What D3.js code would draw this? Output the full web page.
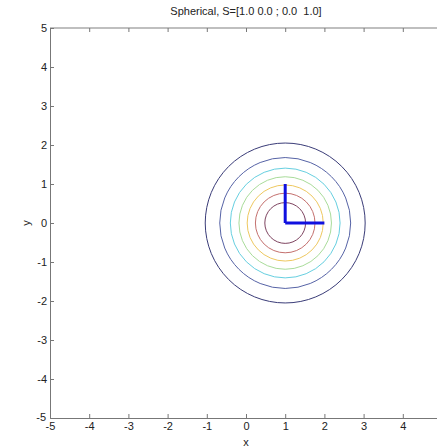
<!DOCTYPE html>
<html>
<head>
<meta charset="utf-8">
<script src="https://cdn.jsdelivr.net/npm/d3@7"></script>
<style>
  body { margin: 0; background: #fff; }
  svg { display: block; font-family: "Liberation Sans", Arial, sans-serif; }
</style>
</head>
<body>
<svg id="chart" width="437" height="448"></svg>
<script>
// contour rings (radius in data units) and their colours
var ringRadius = [0.52, 0.76, 0.97, 1.18, 1.40, 1.67, 2.04];
var ringColor = ["#7e4460", "#c4706e", "#eec860", "#a9dc9a", "#66cfe0", "#5663a6", "#3a3c78"];
var center = [1, 0];
// principal axes drawn from the centre
var axisEnds = [[1, 1], [2, 0]];
var xTicks = [-5, -4, -3, -2, -1, 0, 1, 2, 3, 4, 5];
var yTicks = [-5, -4, -3, -2, -1, 0, 1, 2, 3, 4, 5];
var title = "Spherical, S=[1.0 0.0 ; 0.0  1.0]";

var svg = d3.select("#chart");
var x = d3.scaleLinear().domain([-5, 5]).range([50, 442]);
var y = d3.scaleLinear().domain([-5, 5]).range([418, 28]);
var fmt = function(d) { return String(d); };

// frame: top border lighter
svg.append("line")
  .attr("x1", x(-5)).attr("x2", x(5)).attr("y1", y(5)).attr("y2", y(5))
  .attr("stroke", "#aaa").attr("stroke-width", 1.5);

var gx = svg.append("g").attr("transform", "translate(0," + y(-5) + ")")
  .call(d3.axisBottom(x).tickValues(xTicks).tickSize(-4).tickPadding(3).tickFormat(fmt));
var gxTop = svg.append("g").attr("transform", "translate(0," + y(5) + ")")
  .call(d3.axisTop(x).tickValues(xTicks).tickSize(-4).tickFormat(""));
var gy = svg.append("g").attr("transform", "translate(" + x(-5) + ",0)")
  .call(d3.axisLeft(y).tickValues(yTicks.slice(1)).tickSize(-4).tickPadding(3).tickFormat(fmt));

svg.selectAll(".domain").attr("stroke", "#777");
gxTop.select(".domain").remove();
svg.selectAll(".tick line").attr("stroke", "#777");
svg.selectAll(".tick text").attr("fill", "#222").style("font-size", "11px");
gx.selectAll(".tick text").attr("dy", "0.8em");
gy.selectAll(".tick text").attr("dy", "0.35em");
// the last x label falls outside the window in the reference
gx.selectAll(".tick text").filter(function(d) { return x(d) > 437; }).remove();

// the -5 on the y axis sits just above the x axis -5
svg.append("text")
  .attr("x", x(-5) - 4).attr("y", y(-5) + 3)
  .attr("text-anchor", "end")
  .style("font-size", "11px").attr("fill", "#222")
  .text(yTicks[0]);

// rings
svg.append("g").selectAll("circle")
  .data(ringRadius)
  .enter().append("circle")
  .attr("cx", x(center[0]))
  .attr("cy", y(center[1]))
  .attr("r", function(d) { return x(d) - x(0); })
  .attr("fill", "none")
  .attr("stroke", function(d, i) { return ringColor[i]; })
  .attr("stroke-width", 1);

// principal axes
svg.append("g").selectAll("line")
  .data(axisEnds)
  .enter().append("line")
  .attr("x1", x(center[0])).attr("y1", y(center[1]))
  .attr("x2", function(d) { return x(d[0]); })
  .attr("y2", function(d) { return y(d[1]); })
  .attr("stroke", "#1010e0")
  .attr("stroke-width", 3);

svg.append("text")
  .attr("x", x(0)).attr("y", 15)
  .attr("text-anchor", "middle")
  .style("font-size", "11px").style("white-space", "pre").attr("fill", "#222")
  .text(title);

svg.append("text")
  .attr("x", x(0)).attr("y", 446)
  .attr("text-anchor", "middle")
  .style("font-size", "11px").attr("fill", "#222")
  .text("x");

svg.append("text")
  .attr("transform", "translate(30," + y(0) + ") rotate(-90)")
  .attr("text-anchor", "middle")
  .style("font-size", "11px").attr("fill", "#222")
  .text("y");
</script>
</body>
</html>
